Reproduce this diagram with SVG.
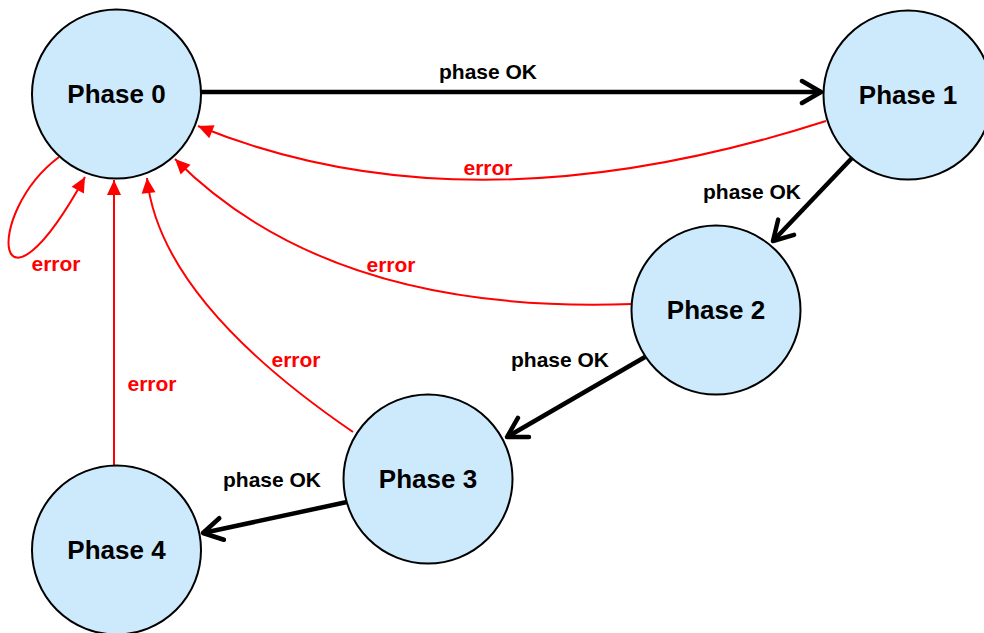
<svg xmlns="http://www.w3.org/2000/svg" width="984" height="633" viewBox="0 0 984 633">
  <style>
    .node circle { fill: #cdeafd; stroke: #000; stroke-width: 2; }
    .node text { font-family: "Liberation Sans", Arial, sans-serif; font-weight: bold; font-size: 26px; fill: #000; text-anchor: middle; }
    .ok { fill: none; stroke: #000; stroke-width: 4.5; marker-end: url(#open); }
    .err { fill: none; stroke: #f00; stroke-width: 2; marker-end: url(#solid); }
    .lbl { font-family: "Liberation Sans", Arial, sans-serif; font-weight: bold; font-size: 21px; text-anchor: middle; }
    .lbl.k { fill: #000; }
    .lbl.r { fill: #f00; }
  </style>
  <defs>
    <marker id="open" markerUnits="userSpaceOnUse" viewBox="-24 -14 28 28" refX="0" refY="0" markerWidth="28" markerHeight="28" orient="auto">
      <path d="M-19,-11 L0,0 L-19,11" fill="none" stroke="#000" stroke-width="4.5" stroke-linecap="round" stroke-linejoin="round"/>
    </marker>
    <marker id="solid" markerUnits="userSpaceOnUse" viewBox="-16 -8 17 16" refX="0" refY="0" markerWidth="17" markerHeight="16" orient="auto">
      <path d="M-15,-7 L0,0 L-15,7 Z" fill="#f00"/>
    </marker>
  </defs>

  <g id="connectors">
    <!-- phase OK transitions -->
    <path class="ok" d="M201,92 L821,92"/>
    <path class="ok" d="M852,158 L773,241"/>
    <path class="ok" d="M645,357 L507,437"/>
    <path class="ok" d="M347,502 L203,533"/>
    <!-- error transitions back to Phase 0 -->
    <path class="err" d="M826,121 Q468,236 198,126"/>
    <path class="err" d="M632,304 Q330,315 175,159"/>
    <path class="err" d="M353,432 Q160,300 147,178"/>
    <path class="err" d="M114,465 L114,180"/>
    <path class="err" d="M59,157 C-18,215 -5,340 85,177"/>
    <!-- labels -->
    <text class="lbl k" x="488" y="79">phase OK</text>
    <text class="lbl k" x="752" y="199">phase OK</text>
    <text class="lbl k" x="560" y="367">phase OK</text>
    <text class="lbl k" x="272" y="487">phase OK</text>
    <text class="lbl r" x="488" y="175">error</text>
    <text class="lbl r" x="391" y="272">error</text>
    <text class="lbl r" x="296" y="367">error</text>
    <text class="lbl r" x="152" y="391">error</text>
    <text class="lbl r" x="56" y="271">error</text>
  </g>

  <g id="phase0" class="node">
    <circle cx="116.5" cy="94" r="84.5"/>
    <text x="116.5" y="103">Phase 0</text>
  </g>
  <g id="phase1" class="node">
    <circle cx="908" cy="95" r="84.5"/>
    <text x="908" y="104">Phase 1</text>
  </g>
  <g id="phase2" class="node">
    <circle cx="716" cy="310" r="84.5"/>
    <text x="716" y="319">Phase 2</text>
  </g>
  <g id="phase3" class="node">
    <circle cx="428" cy="479" r="84.5"/>
    <text x="428" y="488">Phase 3</text>
  </g>
  <g id="phase4" class="node">
    <circle cx="116.5" cy="550" r="84.5"/>
    <text x="116.5" y="559">Phase 4</text>
  </g>
</svg>
